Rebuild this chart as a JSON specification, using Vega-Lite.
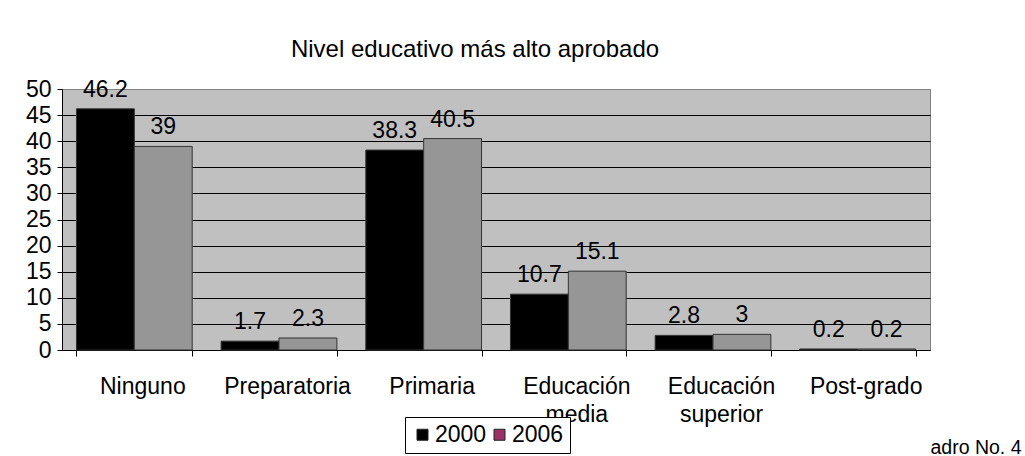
{
  "$schema": "https://vega.github.io/schema/vega-lite/v6.json",
  "width": 868,
  "height": 261,
  "autosize": {"type": "none"},
  "padding": {"top": 89, "left": 62, "right": 95, "bottom": 106},
  "background": "white",
  "title": {
    "text": "Nivel educativo más alto aprobado",
    "fontSize": 24,
    "fontWeight": "normal",
    "color": "black",
    "anchor": "middle",
    "frame": "group",
    "baseline": "alphabetic",
    "offset": -3,
    "dx": -21
  },
  "data": {
    "values": [
      {"categoria": "Ninguno", "year": "2000", "valor": 46.2},
      {"categoria": "Ninguno", "year": "2006", "valor": 39},
      {"categoria": "Preparatoria", "year": "2000", "valor": 1.7},
      {"categoria": "Preparatoria", "year": "2006", "valor": 2.3},
      {"categoria": "Primaria", "year": "2000", "valor": 38.3},
      {"categoria": "Primaria", "year": "2006", "valor": 40.5},
      {"categoria": "Educación media", "year": "2000", "valor": 10.7},
      {"categoria": "Educación media", "year": "2006", "valor": 15.1},
      {"categoria": "Educación superior", "year": "2000", "valor": 2.8},
      {"categoria": "Educación superior", "year": "2006", "valor": 3},
      {"categoria": "Post-grado", "year": "2000", "valor": 0.2},
      {"categoria": "Post-grado", "year": "2006", "valor": 0.2}
    ]
  },
  "encoding": {
    "x": {
      "field": "categoria",
      "type": "nominal",
      "sort": null,
      "scale": {"paddingInner": 0.2, "paddingOuter": 0.1},
      "axis": {
        "title": "adro No. 4",
        "titleX": 868,
        "titleY": 103,
        "titleAlign": "left",
        "titleAnchor": null,
        "titleBaseline": "alphabetic",
        "titleFontSize": 19.5,
        "titleFontWeight": "normal",
        "titleColor": "black",
        "labelAngle": 0,
        "labelFontSize": 23,
        "labelColor": "black",
        "labelPadding": 19,
        "labelOffset": 8,
        "labelLineHeight": 28,
        "labelLimit": 0,
        "labelExpr": "datum.label == 'Educación media' ? ['Educación', 'media'] : datum.label == 'Educación superior' ? ['Educación', 'superior'] : datum.label",
        "tickBand": "extent",
        "tickSize": 6,
        "domainColor": "black",
        "tickColor": "black",
        "grid": false
      }
    },
    "xOffset": {
      "field": "year",
      "type": "nominal",
      "scale": {"paddingInner": 0, "paddingOuter": 0}
    },
    "y": {
      "field": "valor",
      "type": "quantitative",
      "scale": {"domain": [0, 50], "nice": false},
      "axis": {
        "title": null,
        "values": [0, 5, 10, 15, 20, 25, 30, 35, 40, 45, 50],
        "grid": true,
        "gridColor": {"condition": {"test": "datum.value == 50", "value": "#808080"}, "value": "black"},
        "gridOpacity": 1,
        "domainColor": "black",
        "tickColor": "black",
        "tickSize": 5,
        "labelFontSize": 23,
        "labelColor": "black",
        "labelPadding": 6,
        "labelOverlap": false,
        "labelFlush": false
      }
    }
  },
  "layer": [
    {
      "mark": {"type": "bar", "stroke": "#333333", "strokeWidth": 1},
      "encoding": {
        "fill": {
          "field": "year",
          "type": "nominal",
          "scale": {"range": ["#000000", "#969696"]},
          "legend": null
        }
      }
    },
    {
      "mark": {"type": "square", "opacity": 0, "stroke": "#222222", "strokeWidth": 1},
      "encoding": {
        "color": {
          "field": "year",
          "type": "nominal",
          "scale": {"range": ["#000000", "#993366"]},
          "legend": {
            "title": null,
            "orient": "none",
            "legendX": 343,
            "legendY": 328,
            "direction": "horizontal",
            "labelFontSize": 23,
            "labelColor": "black",
            "symbolType": "square",
            "symbolSize": 121,
            "symbolOpacity": 1,
            "symbolStrokeColor": "#222222",
            "symbolStrokeWidth": 1,
            "strokeColor": "black",
            "fillColor": "white",
            "padding": 6,
            "columnPadding": 1,
            "labelOffset": 1
          }
        }
      }
    },
    {
      "mark": {"type": "text", "baseline": "alphabetic", "dy": -12, "fontSize": 23, "color": "black"},
      "encoding": {
        "text": {"field": "valor", "type": "quantitative"}
      }
    }
  ],
  "config": {
    "font": "Liberation Sans",
    "view": {"fill": "#C0C0C0", "stroke": "#808080", "strokeWidth": 1}
  }
}
